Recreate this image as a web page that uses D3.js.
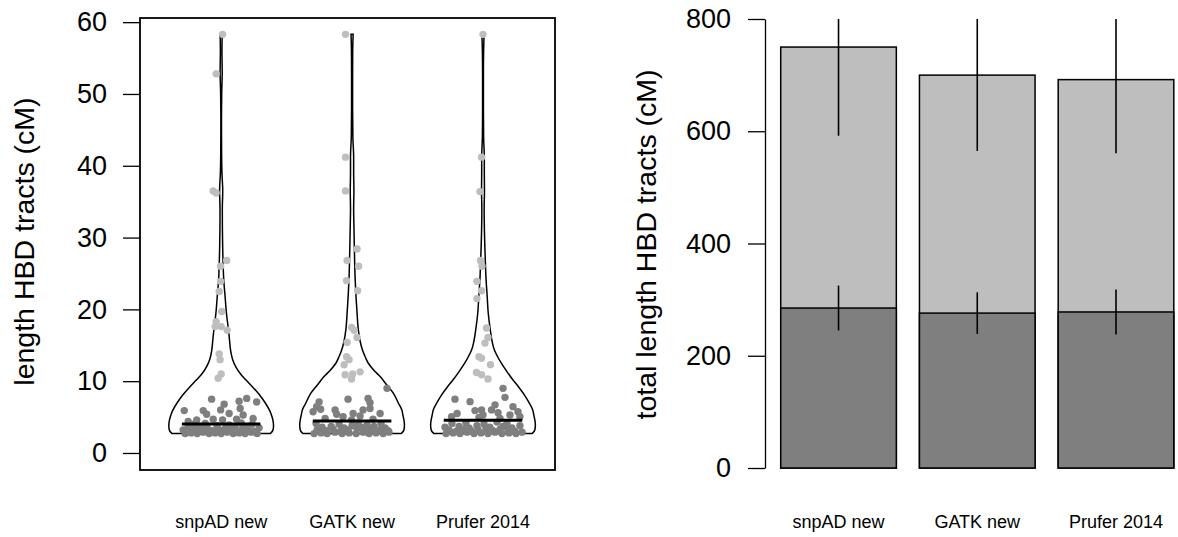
<!DOCTYPE html>
<html>
<head>
<meta charset="utf-8">
<script src="https://cdn.jsdelivr.net/npm/d3@7"></script>
<style>
  html, body { margin: 0; padding: 0; background: #ffffff; }
  svg { display: block; font-family: "Liberation Sans", Arial, Helvetica, sans-serif; }
</style>
</head>
<body>
<svg id="chart" width="1178" height="537"></svg>
<script>
// ---- data ----------------------------------------------------------------
const categories = ["snpAD new", "GATK new", "Prufer 2014"];

// individual HBD tracts: [length in cM, horizontal spread within the bean (group units)]
const snpadShort = [
  [7.5,-0.073],[7.2,0.137],[7.6,0.195],[7.1,0.271],[6.8,0.023],[5.9,-0.282],[5.9,-0.137],
  [6.0,-0.004],[6.2,0.145],[5.5,0.061],[5.4,-0.111],[5.3,0.168],[4.8,0.244],[4.6,-0.187],
  [4.7,-0.061],[4.6,0.011],[4.7,0.118],[4.4,-0.252],
  [2.7,-0.275],[2.8,-0.229],[2.7,-0.183],[2.9,-0.137],[2.7,-0.092],[2.8,-0.046],[2.7,0.0],
  [2.9,0.046],[2.7,0.092],[2.8,0.137],[2.7,0.183],[2.9,0.229],[2.7,0.275],
  [3.2,-0.290],[3.1,-0.206],[3.3,-0.153],[3.1,-0.069],[3.2,-0.015],[3.4,0.031],[3.1,0.076],
  [3.3,0.160],[3.2,0.206],[3.0,0.252],
  [3.6,-0.252],[3.7,-0.168],[3.5,-0.107],[3.8,-0.031],[3.6,0.107],[3.7,0.191],[3.5,0.290],
  [4.0,-0.214],[4.1,-0.122],[3.9,0.061],[4.2,0.153],[4.0,0.237]
];
const snpadLong = [
  [58.3,0.011],[52.8,-0.038],[36.5,-0.061],[36.2,-0.038],[26.8,0.042],[26.0,-0.004],
  [23.9,-0.004],[22.5,-0.015],[19.7,0.004],[18.3,-0.038],[17.6,-0.046],[17.6,0.0],
  [17.1,0.046],[13.8,-0.015],[13.0,-0.008],[11.0,0.0],[10.4,-0.023]
];
const gatkShort = [
  [9.0,0.267],[7.5,-0.031],[7.6,0.122],[7.1,-0.252],[7.0,0.137],[6.45,-0.271],[6.1,-0.240],
  [5.75,-0.298],[6.0,-0.130],[6.0,0.084],[6.2,0.137],[5.5,0.008],[5.4,-0.118],[5.5,0.214],
  [5.05,-0.069],[5.15,0.061],[4.8,-0.206],[4.7,0.160],[4.6,-0.004],
  [2.7,-0.290],[2.8,-0.237],[2.7,-0.191],[2.9,-0.130],[2.7,-0.076],[2.8,-0.023],[2.7,0.031],
  [2.9,0.084],[2.7,0.130],[2.8,0.183],[2.7,0.237],[2.9,0.282],
  [3.2,-0.267],[3.1,-0.198],[3.3,-0.145],[3.1,-0.084],[3.2,-0.031],[3.4,0.038],[3.0,0.099],
  [3.3,0.145],[3.2,0.214],[3.1,0.275],
  [3.6,-0.229],[3.7,-0.160],[3.5,-0.061],[3.8,0.0],[3.6,0.069],[3.7,0.168],[3.5,0.252],
  [4.1,-0.275],[4.0,-0.099],[4.2,0.046],[3.9,0.115],[4.1,0.221]
];
const gatkLong = [
  [58.3,-0.050],[41.2,-0.050],[36.5,-0.050],[28.4,0.038],[26.8,-0.038],[26.0,0.050],
  [24.0,-0.042],[22.6,0.042],[17.5,-0.004],[17.1,0.015],[16.1,0.038],[15.4,-0.038],
  [13.4,-0.042],[13.0,-0.023],[12.3,-0.061],[11.3,0.061],[11.0,0.004],[10.9,-0.053],[10.3,-0.004]
];
const pruferShort = [
  [9.0,0.153],[7.75,0.168],[7.5,-0.214],[7.15,-0.099],[6.7,0.092],[6.45,0.229],[6.0,-0.011],
  [5.9,-0.061],[6.0,0.065],[5.6,0.115],[5.75,0.267],[5.5,-0.198],[5.3,0.0],[5.3,0.206],
  [5.05,-0.240],[4.95,-0.031],[5.05,0.282],[4.8,0.130],
  [2.7,-0.282],[2.8,-0.229],[2.7,-0.176],[2.9,-0.122],[2.7,-0.069],[2.8,-0.015],[2.7,0.038],
  [2.9,0.092],[2.7,0.145],[2.8,0.198],[2.7,0.252],[2.9,0.298],
  [3.2,-0.260],[3.0,-0.206],[3.3,-0.153],[3.1,-0.092],[3.2,-0.038],[3.4,0.023],[3.1,0.076],
  [3.3,0.130],[3.2,0.191],[3.0,0.244],
  [3.6,-0.290],[3.7,-0.183],[3.5,-0.107],[3.8,-0.046],[3.6,0.053],[3.7,0.153],[3.5,0.221],[3.8,0.282],
  [4.1,-0.237],[4.2,-0.130],[4.0,0.008],[4.3,0.107],[4.1,0.183]
];
const pruferLong = [
  [58.3,0.0],[41.2,-0.011],[36.4,-0.023],[26.8,-0.019],[26.0,-0.008],[23.9,-0.046],
  [22.6,-0.011],[21.5,-0.046],[17.4,0.027],[16.1,0.038],[15.3,0.015],[13.4,-0.031],
  [13.2,-0.011],[12.3,0.057],[11.2,-0.050],[10.9,-0.011],[10.3,0.038]
];

// bean outlines: [length in cM, relative density (1 = widest)]
const snpadDensity = [
  [2.7,0.94],[3.2,0.99],[3.8,1.0],[4.5,0.99],[5.3,0.96],[6.0,0.92],[7.0,0.84],[8.1,0.73],
  [9.2,0.60],[10.2,0.47],[11.0,0.37],[12.0,0.28],[13.0,0.22],[14.3,0.18],[15.7,0.16],
  [17.1,0.14],[19.5,0.10],[21.8,0.075],[24.0,0.05],[26.5,0.036],[29.0,0.028],[31.0,0.024],
  [34.0,0.022],[36.5,0.03],[39.0,0.015],[42.0,0.008],[46.0,0.006],[50.0,0.01],[53.0,0.02],
  [56.0,0.015],[58.3,0.02]
];
const gatkDensity = [
  [2.7,0.94],[3.2,0.99],[3.9,1.0],[4.6,0.99],[5.3,0.97],[6.0,0.95],[7.0,0.88],[8.3,0.79],
  [9.5,0.66],[10.6,0.54],[11.5,0.42],[12.5,0.31],[13.4,0.25],[14.3,0.20],[15.7,0.15],
  [17.1,0.12],[19.5,0.095],[21.8,0.075],[24.0,0.06],[26.4,0.05],[29.0,0.042],[31.0,0.037],
  [34.0,0.03],[36.5,0.035],[39.0,0.03],[41.2,0.03],[44.0,0.015],[48.0,0.01],[53.0,0.01],
  [56.0,0.012],[58.3,0.02]
];
const pruferDensity = [
  [2.7,0.94],[3.2,0.99],[3.9,1.0],[4.6,0.99],[5.3,0.97],[6.0,0.95],[7.0,0.88],[8.1,0.79],
  [9.2,0.68],[10.2,0.57],[11.3,0.46],[12.5,0.35],[13.4,0.28],[14.3,0.22],[15.7,0.17],
  [17.1,0.14],[19.5,0.10],[21.8,0.08],[24.0,0.06],[26.4,0.046],[29.0,0.034],[31.0,0.027],
  [34.0,0.022],[36.5,0.028],[39.0,0.025],[41.2,0.025],[44.0,0.012],[48.0,0.008],[53.0,0.008],
  [56.0,0.012],[58.3,0.02]
];

// per-group average tract length (bean line)
const averageLength = [4.05, 4.45, 4.55];

// total length of HBD tracts (cM): all tracts and short tracts, with spread
const totalMean  = [750, 700, 692];
const totalErr   = [158, 135, 131];
const shortMean  = [285, 276, 278];
const shortErr   = [40, 37, 40];

const lengthTicks = [0, 10, 20, 30, 40, 50, 60];
const totalTicks  = [0, 200, 400, 600, 800];

// ---- drawing ---------------------------------------------------------------
const svg = d3.select("#chart");
const darkGrey = "#7f7f7f", lightGrey = "#bebebe";

const groups = [
  { short: snpadShort,  long: snpadLong,  density: snpadDensity },
  { short: gatkShort,   long: gatkLong,   density: gatkDensity },
  { short: pruferShort, long: pruferLong, density: pruferDensity }
];

// left panel: bean plot of tract lengths
const xL = d3.scaleLinear().domain([0.38, 3.55]).range([140, 555]);
const yL = d3.scaleLinear().domain([-2.37, 60.58]).range([470, 18]);
const beanHalf = 0.4, lineHalf = 0.3, dotR = 3.7;

const left = svg.append("g");

groups.forEach((g, i) => {
  const pos = i + 1;
  const area = d3.area()
    .curve(d3.curveMonotoneY)
    .y(d => yL(d[0]))
    .x0(d => xL(pos - beanHalf * d[1]))
    .x1(d => xL(pos + beanHalf * d[1]));
  left.append("path")
    .attr("d", area(g.density))
    .attr("fill", "none")
    .attr("stroke", "#000")
    .attr("stroke-width", 1.5);

  left.append("g").selectAll("circle")
    .data(g.long)
    .join("circle")
    .attr("cx", d => xL(pos + d[1]))
    .attr("cy", d => yL(d[0]))
    .attr("r", dotR)
    .attr("fill", lightGrey);

  left.append("g").selectAll("circle")
    .data(g.short)
    .join("circle")
    .attr("cx", d => xL(pos + d[1]))
    .attr("cy", d => yL(d[0]))
    .attr("r", dotR)
    .attr("fill", darkGrey);

  left.append("line")
    .attr("x1", xL(pos - lineHalf))
    .attr("x2", xL(pos + lineHalf))
    .attr("y1", yL(averageLength[i]))
    .attr("y2", yL(averageLength[i]))
    .attr("stroke", "#000")
    .attr("stroke-width", 3);
});

// frame
left.append("rect")
  .attr("x", xL.range()[0]).attr("y", yL.range()[1])
  .attr("width", xL.range()[1] - xL.range()[0])
  .attr("height", yL.range()[0] - yL.range()[1])
  .attr("fill", "none").attr("stroke", "#000").attr("stroke-width", 1.8);

const axL = left.append("g")
  .attr("transform", `translate(${xL.range()[0]},0)`)
  .call(d3.axisLeft(yL).tickValues(lengthTicks).tickSize(17).tickSizeOuter(0).tickPadding(16));
axL.select(".domain").remove();
axL.selectAll(".tick line").attr("stroke-width", 1.3);
axL.selectAll(".tick text")
  .attr("font-size", 27).attr("fill", "#000")
  .attr("font-family", "'Liberation Sans', Arial, Helvetica, sans-serif");

left.append("text")
  .attr("transform", `translate(34,${(yL(lengthTicks[0]) + yL(60)) / 2 + 4}) rotate(-90)`)
  .attr("text-anchor", "middle")
  .attr("font-size", 28.5)
  .text("length HBD tracts (cM)");

left.append("g").selectAll("text")
  .data(categories)
  .join("text")
  .attr("x", (d, i) => xL(i + 1))
  .attr("y", 528)
  .attr("text-anchor", "middle")
  .attr("font-size", 18)
  .text(d => d);

// right panel: stacked totals with spread
const xR = d3.scaleLinear().domain([0, 3.6]).range([757.6, 1173.8]);
const yR = d3.scaleLinear().domain([0, 800]).range([468, 19]);
const barLeft = i => 0.2 + 1.2 * i;
const barMid  = i => 0.7 + 1.2 * i;

svg.append("defs").append("clipPath").attr("id", "plotR")
  .append("rect").attr("x", 760).attr("y", yR(800)).attr("width", 420).attr("height", yR(0) - yR(800) + 2);

const right = svg.append("g");
const plotR = right.append("g").attr("clip-path", "url(#plotR)");

plotR.selectAll("rect.total")
  .data(totalMean)
  .join("rect")
  .attr("class", "total")
  .attr("x", (d, i) => xR(barLeft(i)))
  .attr("width", (d, i) => xR(barLeft(i) + 1) - xR(barLeft(i)))
  .attr("y", d => yR(d))
  .attr("height", d => yR(0) - yR(d))
  .attr("fill", lightGrey).attr("stroke", "#000").attr("stroke-width", 1.5);

plotR.selectAll("rect.short")
  .data(shortMean)
  .join("rect")
  .attr("class", "short")
  .attr("x", (d, i) => xR(barLeft(i)))
  .attr("width", (d, i) => xR(barLeft(i) + 1) - xR(barLeft(i)))
  .attr("y", d => yR(d))
  .attr("height", d => yR(0) - yR(d))
  .attr("fill", darkGrey).attr("stroke", "#000").attr("stroke-width", 1.5);

plotR.selectAll("line.errTotal")
  .data(totalMean)
  .join("line")
  .attr("class", "errTotal")
  .attr("x1", (d, i) => xR(barMid(i))).attr("x2", (d, i) => xR(barMid(i)))
  .attr("y1", (d, i) => yR(d - totalErr[i])).attr("y2", (d, i) => yR(d + totalErr[i]))
  .attr("stroke", "#000").attr("stroke-width", 1.6);

plotR.selectAll("line.errShort")
  .data(shortMean)
  .join("line")
  .attr("class", "errShort")
  .attr("x1", (d, i) => xR(barMid(i))).attr("x2", (d, i) => xR(barMid(i)))
  .attr("y1", (d, i) => yR(d - shortErr[i])).attr("y2", (d, i) => yR(d + shortErr[i]))
  .attr("stroke", "#000").attr("stroke-width", 1.6);

const axR = right.append("g")
  .attr("transform", `translate(${xR(0.064)},0)`)
  .call(d3.axisLeft(yR).tickValues(totalTicks).tickSize(17).tickSizeOuter(0).tickPadding(17));
axR.select(".domain").attr("stroke-width", 1.3);
axR.selectAll(".tick line").attr("stroke-width", 1.3);
axR.selectAll(".tick text")
  .attr("font-size", 27).attr("fill", "#000")
  .attr("font-family", "'Liberation Sans', Arial, Helvetica, sans-serif");

right.append("text")
  .attr("transform", `translate(656,${(yR(0) + yR(800)) / 2 + 1}) rotate(-90)`)
  .attr("text-anchor", "middle")
  .attr("font-size", 28.5)
  .text("total length HBD tracts (cM)");

right.append("g").selectAll("text")
  .data(categories)
  .join("text")
  .attr("x", (d, i) => xR(barMid(i)))
  .attr("y", 528)
  .attr("text-anchor", "middle")
  .attr("font-size", 18)
  .text(d => d);
</script>
</body>
</html>
